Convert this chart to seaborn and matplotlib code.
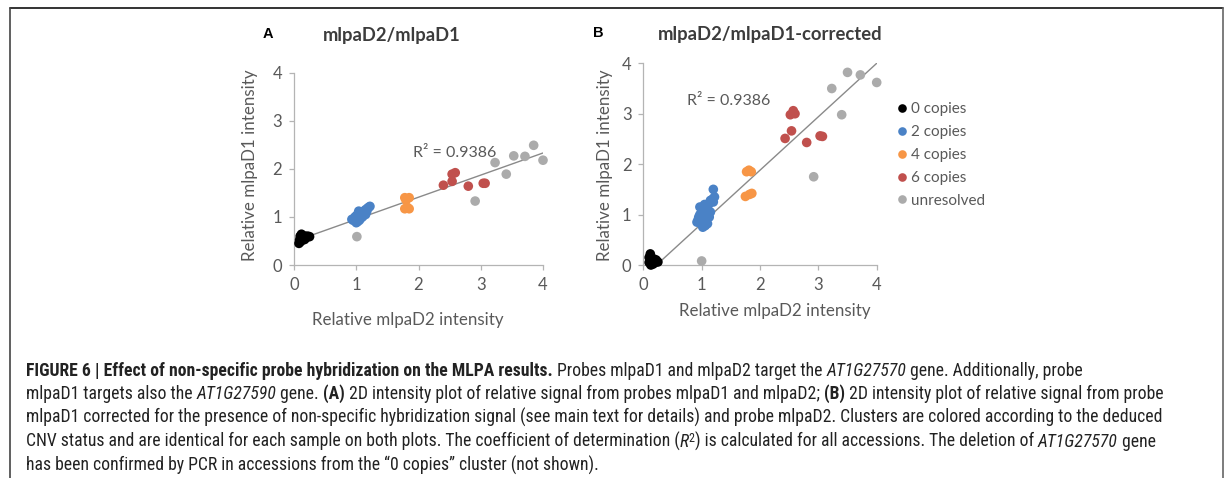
import os
import numpy as np
import pandas as pd
import matplotlib
matplotlib.use("Agg")
import matplotlib.pyplot as plt
from matplotlib.lines import Line2D
from matplotlib import font_manager as fm
import seaborn as sns

sns.set_theme(style="white")
plt.rcParams["font.family"] = ["Lato", "DejaVu Sans"]

W, H = 1229, 478

# ---------------- data ----------------
groups = ["0 copies", "2 copies", "4 copies", "6 copies", "unresolved"]
colors = ["#000000", "#4a82c6", "#f79646", "#c0504d", "#ababab"]
ticks = [0, 1, 2, 3, 4]

# Panel A: mlpaD2 (x) vs mlpaD1 (y)
a_black_x = [0.08, 0.09, 0.10, 0.12, 0.13, 0.15, 0.17, 0.20, 0.22, 0.25, 0.11, 0.18]
a_black_y = [0.45, 0.52, 0.60, 0.64, 0.55, 0.60, 0.53, 0.57, 0.60, 0.59, 0.49, 0.60]
a_blue_x = [0.95, 0.97, 0.98, 1.00, 1.00, 1.02, 1.02, 1.03, 1.05, 1.05, 1.06, 1.07, 1.08, 1.08,
            1.10, 1.10, 1.12, 1.12, 1.14, 1.15, 1.15, 1.17, 1.18, 1.20, 1.22, 1.00, 0.93, 1.04]
a_blue_y = [0.93, 0.97, 1.00, 0.95, 1.02, 0.90, 1.05, 0.98, 1.00, 0.93, 1.07, 0.97, 1.03, 1.10,
            1.00, 1.08, 1.05, 1.12, 1.10, 1.15, 1.05, 1.12, 1.18, 1.20, 1.22, 0.88, 0.95, 1.12]
a_orange_x = [1.78, 1.85, 1.78, 1.85, 1.80, 1.82]
a_orange_y = [1.40, 1.40, 1.17, 1.17, 1.35, 1.20]
a_red_x = [2.40, 2.54, 2.59, 2.54, 2.80, 3.04, 3.07]
a_red_y = [1.66, 1.89, 1.92, 1.74, 1.64, 1.70, 1.70]
a_gray_x = [1.01, 2.91, 3.23, 3.41, 3.53, 3.71, 3.85, 4.00]
a_gray_y = [0.59, 1.33, 2.13, 1.89, 2.27, 2.26, 2.49, 2.18]

# Panel B: mlpaD2 (x) vs corrected mlpaD1 (y)
b_black_x = [0.10, 0.12, 0.12, 0.14, 0.15, 0.17, 0.20, 0.22, 0.25, 0.10, 0.18, 0.13]
b_black_y = [0.05, 0.22, 0.12, 0.03, 0.08, 0.02, 0.05, 0.10, 0.06, 0.15, 0.12, 0.00]
b_blue_x = [0.92, 0.94, 0.95, 0.97, 0.98, 1.00, 1.00, 1.00, 1.02, 1.02, 1.03, 1.05, 1.05, 1.06,
            1.07, 1.08, 1.10, 1.10, 1.12, 1.13, 1.15, 1.15, 1.18, 1.20, 1.20, 1.22, 0.97, 1.05]
b_blue_y = [0.85, 0.90, 0.95, 1.00, 0.88, 1.05, 0.80, 0.92, 0.75, 1.10, 0.98, 0.85, 1.15, 0.78,
            1.02, 0.92, 1.10, 0.82, 1.20, 0.95, 1.28, 1.05, 1.30, 1.25, 1.50, 1.35, 1.15, 1.20]
b_orange_x = [1.77, 1.85, 1.81, 1.75, 1.82, 1.86]
b_orange_y = [1.85, 1.85, 1.88, 1.36, 1.40, 1.42]
b_red_x = [2.43, 2.54, 2.52, 2.57, 2.60, 2.80, 3.03, 3.07]
b_red_y = [2.51, 2.66, 2.98, 3.06, 3.00, 2.43, 2.56, 2.55]
b_gray_x = [1.00, 2.92, 3.23, 3.40, 3.50, 3.72, 4.00]
b_gray_y = [0.08, 1.75, 3.50, 2.98, 3.82, 3.77, 3.62]

# linear trendlines as shown in the chart (slope, intercept)
trend_a = [0.46, 0.49]
trend_b = [1.06, -0.24]

r2_label = "R\u00b2 = 0.9386"
titles = ["mlpaD2/mlpaD1", "mlpaD2/mlpaD1-corrected"]
panel_letters = ["A", "B"]
xlabel = "Relative mlpaD2 intensity"
ylabel = "Relative mlpaD1 intensity"


def frame(xs, ys):
    rows = []
    for g, x, y in zip(groups, xs, ys):
        for xi, yi in zip(x, y):
            rows.append({"x": xi, "y": yi, "group": g})
    return pd.DataFrame(rows)


dfA = frame([a_black_x, a_blue_x, a_orange_x, a_red_x, a_gray_x],
            [a_black_y, a_blue_y, a_orange_y, a_red_y, a_gray_y])
dfB = frame([b_black_x, b_blue_x, b_orange_x, b_red_x, b_gray_x],
            [b_black_y, b_blue_y, b_orange_y, b_red_y, b_gray_y])

# ---------------- figure ----------------
fig = plt.figure(figsize=(W / 100, H / 100), dpi=100)
renderer = fig.canvas.get_renderer()


def fx(px):
    return px / W


def fy(py):
    return 1 - py / H


axA = fig.add_axes([fx(294), fy(265), 249 / W, 192.3 / H])
axB = fig.add_axes([fx(643.3), fy(265), 233.4 / W, 201.7 / H])

palette = dict(zip(groups, colors))
axis_col = "#b4b4b4"
text_col = "#595959"

for ax, df, tr in ((axA, dfA, trend_a), (axB, dfB, trend_b)):
    xs = np.array([df["x"].min(), df["x"].max()])
    sns.lineplot(x=xs, y=tr[0] * xs + tr[1], color="#8a8a8a", lw=1.0, ax=ax, zorder=1)
    sns.scatterplot(data=df, x="x", y="y", hue="group", palette=palette, hue_order=groups,
                    s=48, edgecolor="none", linewidth=0, ax=ax, legend=False, zorder=3)
    for c in ax.collections:
        c.set_clip_on(False)
    ax.set_xlim(0, 4)
    ax.set_ylim(0, 4)
    ax.set_xticks(ticks)
    ax.set_yticks(ticks)
    ax.set_xticklabels([str(v) for v in ticks], fontfamily="Lato")
    ax.set_yticklabels([str(v) for v in ticks], fontfamily="Lato")
    ax.set_xlabel("")
    ax.set_ylabel("")
    for s in ("top", "right"):
        ax.spines[s].set_visible(False)
    for s in ("left", "bottom"):
        ax.spines[s].set_color(axis_col)
        ax.spines[s].set_linewidth(0.9)
    ax.tick_params(bottom=True, left=True, length=3.5, width=0.9, color=axis_col,
                   labelcolor=text_col, labelsize=12, pad=5)
    ax.patch.set_alpha(0)


def fit_width(t, target, vertical=False):
    bb = t.get_window_extent(renderer)
    w = bb.height if vertical else bb.width
    t.set_fontsize(t.get_fontsize() * target / w)


# R^2 labels
axA.text(1.91, 2.33, r2_label, color=text_col, fontsize=11.5, ha="left", va="center")
axB.text(0.75, 3.25, r2_label, color=text_col, fontsize=11.5, ha="left", va="center")

# titles and letters
t = fig.text(fx(391.5), fy(41), titles[0], ha="center", va="baseline", color="#3c3c3c",
             fontweight="bold", fontsize=13)
fit_width(t, 137)
t = fig.text(fx(770.5), fy(40), titles[1], ha="center", va="baseline", color="#3c3c3c",
             fontweight="bold", fontsize=13)
fit_width(t, 225)
fig.text(fx(263), fy(38.5), panel_letters[0], ha="left", va="baseline", color="black",
         fontweight="bold", fontsize=10.5, family="Liberation Sans")
fig.text(fx(593), fy(37), panel_letters[1], ha="left", va="baseline", color="black",
         fontweight="bold", fontsize=10.5, family="Liberation Sans")

# axis labels
for (cx, cy) in ((408, 320), (775, 311)):
    t = fig.text(fx(cx), fy(cy), xlabel, ha="center", va="center", color=text_col, fontsize=12)
    fit_width(t, 190)
for (cx, cy) in ((250, 165), (605, 165)):
    t = fig.text(fx(cx), fy(cy), ylabel, ha="center", va="center", color=text_col, fontsize=12,
                 rotation=90)
    fit_width(t, 190, vertical=True)

# legend
handles = [Line2D([], [], marker="o", ls="", color=c, markersize=6.2, markeredgewidth=0)
           for c in colors]
axB.legend(handles, groups, loc="upper left", bbox_to_anchor=(fx(897.2), fy(102.3)),
           bbox_transform=fig.transFigure, frameon=False, fontsize=11, handlelength=0.6,
           handletextpad=0.32, labelspacing=0.58, borderpad=0, borderaxespad=0,
           labelcolor=text_col)

# outer frame
fig.add_artist(Line2D([fx(10), fx(1223)], [fy(8), fy(8)], color="#111111", lw=1.2))
fig.add_artist(Line2D([fx(10), fx(10)], [fy(8), 0], color="#444444", lw=1.2))
fig.add_artist(Line2D([fx(1223), fx(1223)], [fy(8), 0], color="#666666", lw=1.2))


# caption font: a condensed Helvetica-like face if one is installed
def _weight(f):
    w = f.weight
    if isinstance(w, str):
        return 700 if "bold" in w.lower() else 400
    return int(w)


def find_condensed():
    prefs = ["Liberation Sans Narrow", "Roboto Condensed", "Open Sans Condensed",
             "Noto Sans Condensed", "Open Sans", "Noto Sans", "Roboto"]
    for fam in prefs:
        faces = {}
        for f in fm.fontManager.ttflist:
            if f.name != fam:
                continue
            base = os.path.basename(f.fname).lower()
            cond = ("narrow" in fam.lower() or "condensed" in fam.lower()
                    or str(f.stretch) == "condensed"
                    or ("condensed" in base and "semi" not in base and "extra" not in base))
            if not cond:
                continue
            wt = _weight(f)
            it = f.style in ("italic", "oblique")
            if wt == 400 and not it:
                faces.setdefault("r", f.fname)
            elif wt == 700 and not it:
                faces.setdefault("b", f.fname)
            elif wt == 400 and it:
                faces.setdefault("i", f.fname)
        if all(k in faces for k in ("r", "b", "i")):
            return faces
    return None


cond_faces = find_condensed()

caption = [
    [("FIGURE 6 | Effect of non-specific probe hybridization on the MLPA results.", "b"),
     (" Probes mlpaD1 and mlpaD2 target the ", "r"), ("AT1G27570", "i"),
     (" gene. Additionally, probe", "r")],
    [("mlpaD1 targets also the ", "r"), ("AT1G27590", "i"), (" gene. ", "r"), ("(A)", "b"),
     (" 2D intensity plot of relative signal from probes mlpaD1 and mlpaD2; ", "r"),
     ("(B)", "b"), (" 2D intensity plot of relative signal from probe", "r")],
    [("mlpaD1 corrected for the presence of non-specific hybridization signal (see main text "
      "for details) and probe mlpaD2. Clusters are colored according to the deduced", "r")],
    [("CNV status and are identical for each sample on both plots. The coefficient of "
      "determination (", "r"), ("R", "i"), ("2", "sup"),
     (") is calculated for all accessions. The deletion of ", "r"), ("AT1G27570", "i"),
     (" gene", "r")],
    [("has been confirmed by PCR in accessions from the \u201c0 copies\u201d cluster "
      "(not shown).", "r")],
]
baselines = [375.5, 399.2, 422.9, 446.6, 470.3]


def seg_kw(style, size):
    sz = size * 0.68 if style == "sup" else size
    key = {"b": "b", "i": "i"}.get(style, "r")
    if cond_faces is not None:
        return {"fontproperties": fm.FontProperties(fname=cond_faces[key], size=sz),
                "color": "#222222"}
    kw = {"family": "Liberation Sans", "fontsize": sz, "color": "#222222"}
    if key == "b":
        kw["fontweight"] = "bold"
    elif key == "i":
        kw["fontstyle"] = "italic"
    return kw


def seg_width(txt, kw):
    t1 = fig.text(0, 0, txt + "|", **kw)
    t2 = fig.text(0, 0, "|", **kw)
    w = t1.get_window_extent(renderer).width - t2.get_window_extent(renderer).width
    t1.remove()
    t2.remove()
    return w


# fit caption size to the full-width third line
size0 = 10.0
w3 = seg_width(caption[2][0][0], seg_kw("r", size0))
cap_size = size0 * (1152 - 26) / w3

for line, base in zip(caption, baselines):
    x = 26
    for txt, style in line:
        kw = seg_kw(style, cap_size)
        yy = base - (5 if style == "sup" else 0)
        fig.text(fx(x), fy(yy), txt, ha="left", va="baseline", **kw)
        x += seg_width(txt, kw)

fig.savefig("out.png", dpi=100, facecolor="white")
